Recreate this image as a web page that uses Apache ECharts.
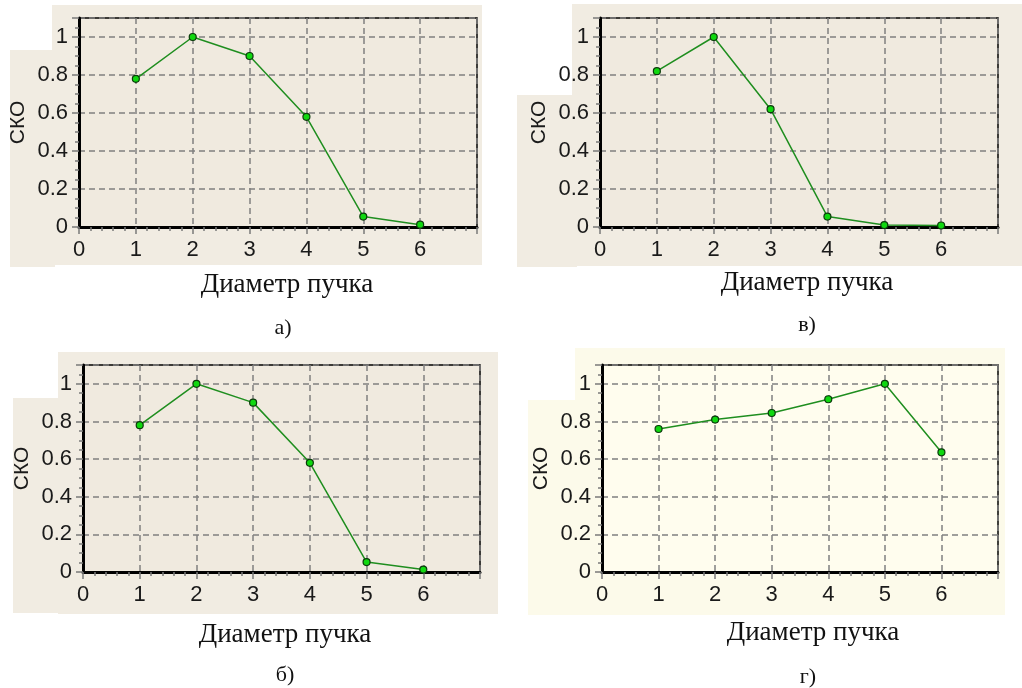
<!DOCTYPE html>
<html><head><meta charset="utf-8">
<script src="https://cdn.jsdelivr.net/npm/echarts@6/dist/echarts.min.js"></script>
<style>html,body{margin:0;padding:0;background:#fff}#c{width:1022px;height:688px}</style>
</head><body><div id="c"></div>
<script>
const xValues = [1, 2, 3, 4, 5, 6];
const seriesA = [0.78, 1.0, 0.9, 0.58, 0.055, 0.012];
const seriesV = [0.82, 1.0, 0.62, 0.055, 0.01, 0.008];
const seriesB = [0.78, 1.0, 0.9, 0.58, 0.053, 0.013];
const seriesG = [0.76, 0.81, 0.845, 0.918, 1.0, 0.636];
const panelLabels = ['а)', 'в)', 'б)', 'г)'];
const xTitle = 'Диаметр пучка';
const yTitle = 'СКО';

const allSeries = [seriesA, seriesV, seriesB, seriesG];
const grids = [
  {left: 79, top: 18, width: 398, height: 209, bg: '#F0EADF'},
  {left: 600, top: 18, width: 398, height: 209, bg: '#F0EADF'},
  {left: 83, top: 365, width: 397, height: 207, bg: '#F0EADF'},
  {left: 602, top: 365, width: 396, height: 207, bg: '#FFFDEE'}
];
const outer = '#F1ECE2', outerG = '#FCFAEA';
const titlePos = [[287, 285], [807, 283], [285, 635], [813, 633]];
const labelPos = [[283, 328], [807, 325], [285, 675], [808, 677]];

const option = {
  animation: false,
  grid: grids.map(g => ({left: g.left, top: g.top, width: g.width, height: g.height,
    show: true, backgroundColor: g.bg, borderColor: '#000', borderWidth: 1.5})),
  xAxis: grids.map((g, i) => ({
    type: 'value', gridIndex: i, min: 0, max: 7, interval: 1,
    axisLine: {show: true, onZero: false, lineStyle: {color: '#000', width: 3}},
    axisTick: {show: true, length: 7, lineStyle: {color: '#7a7a7a', width: 1.5}},
    minorTick: {show: true, splitNumber: 5, length: 4, lineStyle: {color: '#7a7a7a', width: 1.5}},
    axisLabel: {showMaxLabel: false, margin: 12, fontFamily: 'Liberation Sans', fontSize: 22, color: '#1a1a1a'},
    splitLine: {show: true, lineStyle: {color: '#808080', type: [6, 4], width: 1.5}}
  })),
  yAxis: grids.map((g, i) => ({
    type: 'value', gridIndex: i, min: 0, max: 1.1, interval: 0.2,
    name: yTitle, nameLocation: 'middle', nameGap: 50,
    nameTextStyle: {fontFamily: 'Liberation Sans', fontSize: 21, color: '#1a1a1a'},
    axisLine: {show: true, onZero: false, lineStyle: {color: '#000', width: 3}},
    axisTick: {show: true, length: 7, lineStyle: {color: '#7a7a7a', width: 1.5}},
    minorTick: {show: true, splitNumber: 4, length: 4, lineStyle: {color: '#7a7a7a', width: 1.5}},
    axisLabel: {showMaxLabel: false, margin: 11, fontFamily: 'Liberation Sans', fontSize: 22, color: '#1a1a1a',
      formatter: v => (v > 1.05 ? '' : String(Math.round(v * 10) / 10))},
    splitLine: {show: true, lineStyle: {color: '#808080', type: [6, 4], width: 1.5}}
  })),
  series: allSeries.map((s, i) => ({
    type: 'line', xAxisIndex: i, yAxisIndex: i,
    data: xValues.map((x, j) => [x, s[j]]),
    symbol: 'circle', symbolSize: 7,
    lineStyle: {color: '#1F8E1F', width: 1.5},
    itemStyle: {color: '#10D810', borderColor: '#0B3B0B', borderWidth: 1.2}
  })),
  graphic: [
    {type: 'rect', z: -10, shape: {x: 52, y: 5, width: 430, height: 260}, style: {fill: outer}},
    {type: 'rect', z: -10, shape: {x: 10, y: 50, width: 45, height: 217}, style: {fill: outer}},
    {type: 'rect', z: -10, shape: {x: 572, y: 4, width: 450, height: 262}, style: {fill: outer}},
    {type: 'rect', z: -10, shape: {x: 517, y: 95, width: 60, height: 172}, style: {fill: outer}},
    {type: 'rect', z: -10, shape: {x: 58, y: 352, width: 440, height: 262}, style: {fill: outer}},
    {type: 'rect', z: -10, shape: {x: 13, y: 398, width: 50, height: 215}, style: {fill: outer}},
    {type: 'rect', z: -10, shape: {x: 575, y: 348, width: 430, height: 267}, style: {fill: outerG}},
    {type: 'rect', z: -10, shape: {x: 528, y: 400, width: 50, height: 215}, style: {fill: outerG}},
    ...titlePos.map(p => ({type: 'text', x: p[0], y: p[1], style: {text: xTitle, font: '27px "Liberation Serif"', fill: '#111', align: 'center', verticalAlign: 'middle'}})),
    ...labelPos.map((p, i) => ({type: 'text', x: p[0], y: p[1], style: {text: panelLabels[i], font: '22px "Liberation Serif"', fill: '#111', align: 'center', verticalAlign: 'middle'}}))
  ]
};
const chart = echarts.init(document.getElementById('c'), null, {renderer: 'canvas'});
chart.setOption(option);
</script></body></html>
